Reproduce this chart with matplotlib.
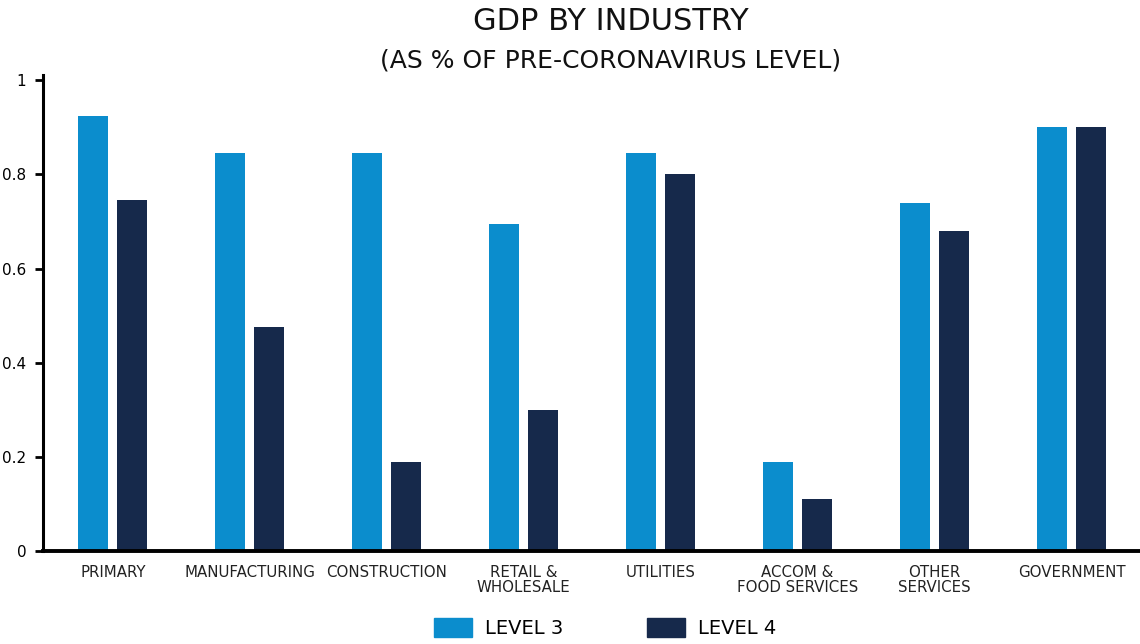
import numpy as np
import matplotlib
matplotlib.use('Agg')
import matplotlib.pyplot as plt
from matplotlib.patches import Patch
from matplotlib.ticker import FormatStrFormatter

industries = ['PRIMARY', 'MANUFACTURING', 'CONSTRUCTION', 'RETAIL &\nWHOLESALE',
              'UTILITIES', 'ACCOM &\nFOOD SERVICES', 'OTHER\nSERVICES', 'GOVERNMENT']
level3 = [0.925, 0.845, 0.845, 0.695, 0.845, 0.19, 0.74, 0.90]
level4 = [0.745, 0.475, 0.19, 0.30, 0.80, 0.11, 0.68, 0.90]

c3 = '#0B8DCD'
c4 = '#16294B'

plt.rcParams['font.family'] = ['DejaVu Sans']

fig = plt.figure(figsize=(11.4, 6.44), dpi=100)
ax = fig.add_axes([0.0377, 0.1444, 0.9623, 0.7391])

x = np.arange(len(industries))
w = 0.22
ax.bar(x - 0.142, level3, width=w, color=c3)
ax.bar(x + 0.142, level4, width=w, color=c4)

ax.set_xlim(-0.51, 7.5)
ax.set_ylim(0, 1.011)
ax.set_yticks([0, 0.2, 0.4, 0.6, 0.8, 1.0])
ax.yaxis.set_major_formatter(FormatStrFormatter('%g'))
ax.set_xticks(x)
ax.set_xticklabels(industries, fontsize=10.8, color='#222222', linespacing=1.05)
ax.tick_params(axis='x', length=0, pad=10)
ax.tick_params(axis='y', length=6, width=2, labelsize=11, colors='black', pad=6)

for s in ['top', 'right']:
    ax.spines[s].set_visible(False)
ax.spines['left'].set_linewidth(2.2)
ax.spines['bottom'].set_linewidth(2.8)

fig.text(0.536, 0.966, 'GDP BY INDUSTRY', ha='center', va='center', fontsize=22, color='#111111')
fig.text(0.536, 0.906, '(AS % OF PRE-CORONAVIRUS LEVEL)', ha='center', va='center', fontsize=18, color='#111111')

handles = [Patch(color=c3, label='LEVEL 3'), Patch(color=c4, label='LEVEL 4')]
fig.legend(handles=handles, loc='center', bbox_to_anchor=(0.531, 0.025), ncol=2, frameon=False,
           fontsize=14, handlelength=1.96, handleheight=1.13, columnspacing=4.3, handletextpad=0.67)

fig.savefig('out.png', dpi=100)
